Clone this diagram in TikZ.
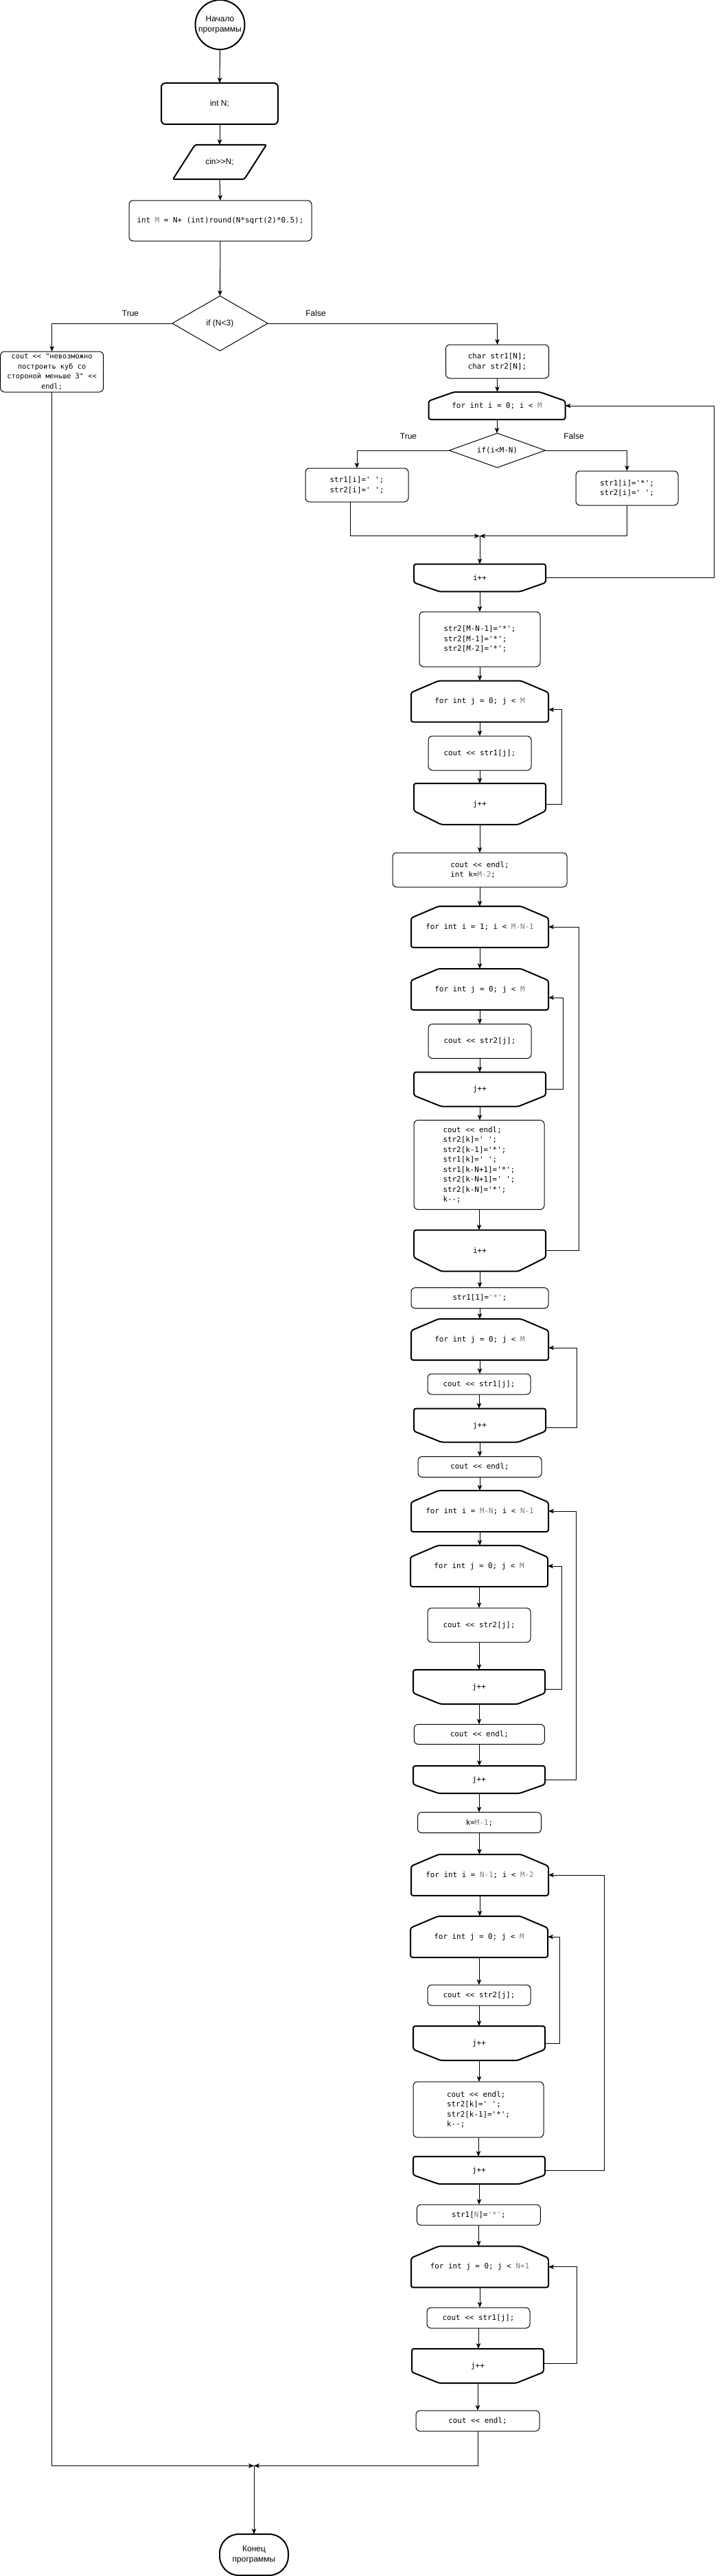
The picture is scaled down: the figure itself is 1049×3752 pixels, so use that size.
\documentclass[tikz,border=0pt]{standalone}
\usepackage{fontspec}
\setmainfont{Liberation Sans}[Ligatures=TeXOff]
\newfontfamily\codefont{DejaVu Sans Mono}[Ligatures=TeXOff]
\usetikzlibrary{arrows.meta,calc}
\definecolor{idcol}{RGB}{125,125,125}
\newcommand{\idc}[1]{\textcolor{idcol}{#1}}
\newcommand{\loopstart}[3]{\draw[thk,rounded corners=3pt] ([xshift=#2pt]#1.north west) -- ([xshift=-#2pt]#1.north east) -- ([yshift=-#3pt]#1.north east) -- (#1.south east) -- (#1.south west) -- ([yshift=-#3pt]#1.north west) -- cycle;}
\newcommand{\loopend}[3]{\draw[thk,rounded corners=3pt] (#1.north west) -- (#1.north east) -- ([yshift=#3pt]#1.south east) -- ([xshift=-#2pt]#1.south east) -- ([xshift=#2pt]#1.south west) -- ([yshift=#3pt]#1.south west) -- cycle;}
\begin{document}
\begin{tikzpicture}[x=1pt,y=-1pt,
  every node/.style={inner sep=0pt,outer sep=0pt},
  lbl/.style={font=\fontsize{12}{15}\selectfont},
  code/.style={font=\codefont\fontsize{10.9}{14.5}\selectfont},
  pbox/.style={draw,line width=1pt,rounded corners=6pt,code,align=center},
  arr/.style={-{Stealth[length=8pt,width=6.5pt,inset=2pt]},line width=1pt},
  ln/.style={line width=1pt},
  thk/.style={line width=2pt}]
\useasboundingbox (0,0) rectangle (1049,3752);
\fill[white] (0,0) rectangle (1049,3752);

% ---------- nodes ----------
\node[draw,circle,thk,minimum size=72pt,lbl,align=center] (start) at (320.5,36) {Начало\\программы};
\node[draw,thk,rounded corners=6pt,minimum width=170pt,minimum height=60pt,lbl] (intN) at (320,151) {int N;};
\node[lbl,minimum width=136pt,minimum height=50pt] (cin) at (320,236) {cin>>N;};
\node[pbox,minimum width=266pt,minimum height=59pt] (intM) at (321,321.5) {int \idc{M} = N+ (int)round(N*sqrt(2)*0.5);};
\node[lbl,minimum width=139pt,minimum height=80pt] (d1) at (320.5,471) {if (N<3)};
\node[lbl] (t1) at (190,456) {True};
\node[lbl] (f1) at (460,456) {False};
\node[pbox,minimum width=150pt,minimum height=59pt,font=\codefont\fontsize{10.3}{14.5}\selectfont] (cerr) at (75.6,541.5) {cout << "невозможно\\построить куб со\\стороной меньше 3" <<\\endl;};
\node[pbox,minimum width=150pt,minimum height=49pt] (char) at (724.5,526.5) {char str1[N];\\char str2[N];};
\node[code,minimum width=199pt,minimum height=40pt] (fi1) at (724,591) {for int i = 0; i < \idc{M}};
\node[code,minimum width=140pt,minimum height=50pt] (d2) at (724.5,656) {if(i<M-N)};
\node[lbl] (t2) at (595,635.5) {True};
\node[lbl] (f2) at (836,635.5) {False};
\node[pbox,minimum width=150pt,minimum height=49pt] (lb) at (520,706.5) {str1[i]=' ';\\str2[i]=' ';};
\node[pbox,minimum width=149pt,minimum height=50pt] (rb) at (913.5,711) {str1[i]='*';\\str2[i]=' ';};
\coordinate (m1) at (699,780.7);
\node[code,minimum width=192pt,minimum height=40pt] (ie1) at (699,841.6) {i++};
\node[pbox,align=left,minimum width=176pt,minimum height=80pt] (s2a) at (699,931) {str2[M-N-1]='*';\\str2[M-1]='*';\\str2[M-2]='*';};
\node[code,minimum width=200pt,minimum height=60pt] (fj1) at (699,1021.6) {for int j = 0; j < \idc{M}};
\node[pbox,minimum width=150pt,minimum height=50pt] (c1) at (699,1097) {cout << str1[j];};
\node[code,minimum width=192pt,minimum height=60pt] (je1) at (699,1171) {j++};
\node[pbox,align=left,minimum width=254pt,minimum height=50pt] (ck) at (699,1267) {cout << endl;\\int k=\idc{M-2};};
\node[code,minimum width=200pt,minimum height=60pt] (fi2) at (699,1350) {for int i = 1; i < \idc{M-N-1}};
\node[code,minimum width=200pt,minimum height=60pt] (fj2) at (699,1441) {for int j = 0; j < \idc{M}};
\node[pbox,minimum width=150pt,minimum height=50pt] (c2) at (699,1516.6) {cout << str2[j];};
\node[code,minimum width=192pt,minimum height=50pt] (je2) at (699,1586.6) {j++};
\node[pbox,align=left,minimum width=190pt,minimum height=130pt] (big1) at (698,1696.6) {cout << endl;\\str2[k]=' ';\\str2[k-1]='*';\\str1[k]=' ';\\str1[k-N+1]='*';\\str2[k-N+1]=' ';\\str2[k-N]='*';\\k--;};
\node[code,minimum width=192pt,minimum height=60pt] (ie2) at (699,1821.7) {i++};
\node[pbox,minimum width=200pt,minimum height=30pt] (s1one) at (699,1890.6) {str1[1]=\idc{'*'};};
\node[code,minimum width=200pt,minimum height=60pt] (fj3) at (699,1951) {for int j = 0; j < \idc{M}};
\node[pbox,minimum width=150pt,minimum height=30pt] (c3) at (698,2016) {cout << str1[j];};
\node[code,minimum width=192pt,minimum height=49pt] (je3) at (699,2076) {j++};
\node[pbox,minimum width=180pt,minimum height=30pt] (e1) at (699,2136.5) {cout << endl;};
\node[code,minimum width=200pt,minimum height=60pt] (fi3) at (699,2201) {for int i = \idc{M-N}; i < \idc{N-1}};
\node[code,minimum width=200pt,minimum height=60pt] (fj4) at (698,2281) {for int j = 0; j < \idc{M}};
\node[pbox,minimum width=150pt,minimum height=50pt] (c4) at (698,2367) {cout << str2[j];};
\node[code,minimum width=192pt,minimum height=50pt] (je4) at (698,2457) {j++};
\node[pbox,minimum width=190pt,minimum height=29pt] (e2) at (698.4,2526) {cout << endl;};
\node[code,minimum width=192pt,minimum height=40pt] (ie3) at (698,2592) {j++};
\node[pbox,minimum width=180pt,minimum height=30pt] (km1) at (698.5,2654.6) {k=\idc{M-1};};
\node[code,minimum width=200pt,minimum height=60pt] (fi4) at (699,2731) {for int i = \idc{N-1}; i < \idc{M-2}};
\node[code,minimum width=200pt,minimum height=60pt] (fj5) at (698,2821) {for int j = 0; j < \idc{M}};
\node[pbox,minimum width=150pt,minimum height=30pt] (c5) at (698,2906) {cout << str2[j];};
\node[code,minimum width=192pt,minimum height=50pt] (je5) at (698,2976) {j++};
\node[pbox,align=left,minimum width=190pt,minimum height=81pt] (big2) at (697,3072.6) {cout << endl;\\str2[k]=' ';\\str2[k-1]='*';\\k--;};
\node[code,minimum width=192pt,minimum height=40pt] (ie4) at (698,3161) {j++};
\node[pbox,minimum width=180pt,minimum height=30pt] (s1N) at (697.4,3226) {str1[\idc{N}]=\idc{'*'};};
\node[code,minimum width=200pt,minimum height=60pt] (fj6) at (699,3301.7) {for int j = 0; j < \idc{N+1}};
\node[pbox,minimum width=150pt,minimum height=30pt] (c6) at (697,3376) {cout << str1[j];};
\node[code,minimum width=192pt,minimum height=50pt] (je6) at (696,3446) {j++};
\node[pbox,minimum width=180pt,minimum height=30pt] (e3) at (696,3526) {cout << endl;};
\coordinate (m2) at (370,3591.4);
\node[draw,thk,rounded corners=28pt,minimum width=100pt,minimum height=60pt,lbl,align=center] (end) at (370,3721) {Конец\\программы};

% ---------- special outlines ----------
\draw[thk,rounded corners=2pt] ([xshift=32pt]cin.north west) -- (cin.north east) -- ([xshift=-32pt]cin.south east) -- (cin.south west) -- cycle;
\draw[ln] (d1.north) -- (d1.east) -- (d1.south) -- (d1.west) -- cycle;
\draw[ln] (d2.north) -- (d2.east) -- (d2.south) -- (d2.west) -- cycle;
\loopstart{fi1}{37}{13}
\loopstart{fj1}{40}{17}
\loopstart{fi2}{40}{17}
\loopstart{fj2}{40}{17}
\loopstart{fj3}{40}{17}
\loopstart{fi3}{40}{17}
\loopstart{fj4}{40}{17}
\loopstart{fi4}{40}{17}
\loopstart{fj5}{40}{17}
\loopstart{fj6}{40}{17}
\loopend{ie1}{37}{13}
\loopend{je1}{40}{20}
\loopend{je2}{40}{16}
\loopend{ie2}{40}{20}
\loopend{je3}{40}{16}
\loopend{je4}{40}{16}
\loopend{ie3}{37}{13}
\loopend{je5}{40}{16}
\loopend{ie4}{37}{13}
\loopend{je6}{40}{16}

% ---------- connectors ----------
\draw[arr] (start.south) -- (intN.north);
\draw[arr] (intN.south) -- (cin.north);
\draw[arr] (cin.south) -- (intM.north);
\draw[arr] (intM.south) -- (d1.north);
\draw[arr] (d1.west) -| (cerr.north);
\draw[arr] (d1.east) -| (char.north);
\draw[arr] (char.south) -- (char.south |- fi1.north);
\draw[arr] (fi1.south) -- (fi1.south |- d2.north);
\draw[arr] (d2.west) -| (lb.north);
\draw[arr] (d2.east) -| (rb.north);
\draw[arr] ([xshift=-10pt]lb.south) |- (m1);
\draw[arr] (rb.south) |- (m1);
\draw[arr] (m1) -- (m1 |- ie1.north);
\draw[arr] (ie1.east) -- ++(245,0) |- (fi1.east);
\draw[arr] (ie1.south) -- (ie1.south |- s2a.north);
\draw[arr] (s2a.south) -- (s2a.south |- fj1.north);
\draw[arr] (fj1.south) -- (fj1.south |- c1.north);
\draw[arr] (c1.south) -- (c1.south |- je1.north);
\draw[arr] (je1.east) -- ++(23,0) |- ([yshift=-12pt]fj1.east);
\draw[arr] (je1.south) -- (je1.south |- ck.north);
\draw[arr] (ck.south) -- (ck.south |- fi2.north);
\draw[arr] (fi2.south) -- (fi2.south |- fj2.north);
\draw[arr] (fj2.south) -- (fj2.south |- c2.north);
\draw[arr] (c2.south) -- (c2.south |- je2.north);
\draw[arr] (je2.east) -- ++(25,0) |- ([yshift=-12pt]fj2.east);
\draw[arr] (je2.south) -- (je2.south |- big1.north);
\draw[arr] (big1.south) -- (big1.south |- ie2.north);
\draw[arr] (ie2.east) -- ++(48.6,0) |- (fi2.east);
\draw[arr] (ie2.south) -- (ie2.south |- s1one.north);
\draw[arr] (s1one.south) -- (s1one.south |- fj3.north);
\draw[arr] (fj3.south) -- (fj3.south |- c3.north);
\draw[arr] (c3.south) -- (c3.south |- je3.north);
\draw[arr] ([yshift=-3pt]je3.east) -- ++(45,0) |- ([yshift=-12pt]fj3.east);
\draw[arr] (je3.south) -- (je3.south |- e1.north);
\draw[arr] (e1.south) -- (e1.south |- fi3.north);
\draw[arr] (fi3.south) -- (fi3.south |- fj4.north);
\draw[arr] (fj4.south) -- (fj4.south |- c4.north);
\draw[arr] (c4.south) -- (c4.south |- je4.north);
\draw[arr] ([yshift=-3pt]je4.east) -- ++(24,0) |- (fj4.east);
\draw[arr] (je4.south) -- (je4.south |- e2.north);
\draw[arr] (e2.south) -- (e2.south |- ie3.north);
\draw[arr] (ie3.east) -- ++(45.6,0) |- (fi3.east);
\draw[arr] (ie3.south) -- (ie3.south |- km1.north);
\draw[arr] (km1.south) -- (km1.south |- fi4.north);
\draw[arr] (fi4.south) -- (fi4.south |- fj5.north);
\draw[arr] (fj5.south) -- (fj5.south |- c5.north);
\draw[arr] (c5.south) -- (c5.south |- je5.north);
\draw[arr] (je5.east) -- ++(21.5,0) |- (fj5.east);
\draw[arr] (je5.south) -- (je5.south |- big2.north);
\draw[arr] (big2.south) -- (big2.south |- ie4.north);
\draw[arr] (ie4.east) -- ++(86,0) |- (fi4.east);
\draw[arr] (ie4.south) -- (ie4.south |- s1N.north);
\draw[arr] (s1N.south) -- (s1N.south |- fj6.north);
\draw[arr] (fj6.south) -- (fj6.south |- c6.north);
\draw[arr] (c6.south) -- (c6.south |- je6.north);
\draw[arr] ([yshift=4pt]je6.east) -- ++(48,0) |- (fj6.east);
\draw[arr] (je6.south) -- (je6.south |- e3.north);
\draw[arr] (cerr.south) |- (m2);
\draw[arr] (e3.south) |- (m2);
\draw[arr] (m2) -- (end.north);
\end{tikzpicture}
\end{document}
